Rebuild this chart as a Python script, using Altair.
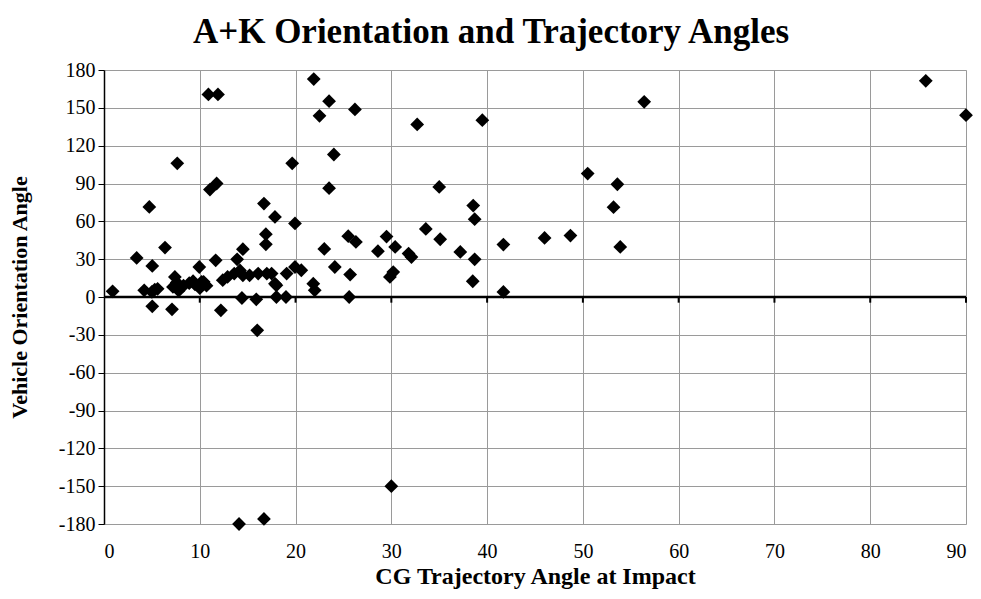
import altair as alt
import pandas as pd

# CG trajectory angle at impact (deg)
traj = [
    0.9, 10.9, 11.9, 7.65, 19.65, 11.06, 11.76, 4.73, 16.7, 17.85,
    19.94, 16.9, 16.9, 6.37, 14.5, 3.41, 5.04, 9.95, 11.66, 13.9,
    19.94, 20.6, 19.07, 21.85, 4.2, 5.3, 14.4, 15.9, 18.0, 19.0,
    5.04, 7.1, 12.2, 16.0, 14.1, 16.7, 21.9, 23.5, 22.5, 26.2,
    32.7, 39.5, 24.0, 23.5, 35.0, 38.55, 38.7, 25.5, 26.3, 23.0,
    29.5, 30.4, 28.6, 31.8, 32.1, 33.6, 35.1, 37.2, 38.7, 41.7,
    24.1, 25.7, 29.85, 30.2, 38.5, 41.7, 25.6, 22.0, 30.0, 56.4,
    50.5, 53.6, 53.2, 53.9, 46.0, 48.7, 85.8, 90.0,
    5.0, 5.6, 7.4, 7.6, 7.2, 7.8, 8.3, 8.9, 9.5, 10.0,
    10.4, 10.7, 9.3, 12.9, 13.6, 14.5, 15.2, 16.1, 17.0, 17.5,
    17.85, 14.2, 18.0, 12.4, 10.2,
]
# Vehicle orientation angle (deg)
orient = [
    4.5, 160.6, 160.6, 106.0, 106.0, 85.2, 90.0, 71.4, 74.1, 63.5,
    58.3, 49.8, 41.8, 39.2, 37.9, 31.0, 24.6, 23.8, 29.1, 29.9,
    23.8, 21.2, 18.6, 10.6, 5.3, 5.9, -0.8, -1.8, 0.0, 0.0,
    -7.4, -9.8, -10.6, -26.4, -180.0, -176.0, 172.8, 155.3, 143.7, 148.7,
    136.8, 140.2, 113.0, 86.3, 87.3, 72.5, 61.7, 48.2, 43.7, 38.1,
    47.9, 39.7, 36.3, 34.4, 31.7, 54.0, 45.8, 35.7, 29.9, 41.6,
    23.8, 17.8, 15.9, 19.8, 12.5, 4.0, 0.0, 5.3, -150.0, 154.8,
    97.9, 89.4, 71.2, 39.7, 46.8, 48.7, 171.4, 144.2,
    4.0, 6.5, 15.9, 11.5, 8.0, 5.0, 9.0, 11.0, 10.0, 7.0,
    12.0, 9.0, 12.5, 15.9, 18.6, 17.2, 17.2, 18.6, 18.6, 18.6,
    10.6, 21.0, 9.3, 13.3, 12.0,
]
x_ticks = [0, 10, 20, 30, 40, 50, 60, 70, 80, 90]
y_ticks = [-180, -150, -120, -90, -60, -30, 0, 30, 60, 90, 120, 150, 180]

df = pd.DataFrame({"traj": traj, "orient": orient})
ticks_df = pd.DataFrame({"t": x_ticks[1:]})
zero_df = pd.DataFrame({"y": [0]})

FONT = "Liberation Serif"
xscale = alt.Scale(domain=[0, 90], nice=False, zero=False)
yscale = alt.Scale(domain=[-180, 180], nice=False, zero=False)

xaxis = alt.Axis(values=x_ticks, title="CG Trajectory Angle at Impact",
                 grid=True, gridColor="#9a9a9a", gridWidth=1,
                 ticks=False, domain=False, labelPadding=17,
                 labelOverlap=False, labelExpr="'' + datum.value",
                 titleY=59, titleBaseline="alphabetic",
                 labelFont=FONT, labelFontSize=20,
                 labelColor="black", titleFont=FONT, titleFontSize=24,
                 titleFontWeight="bold", titleColor="black")
yaxis = alt.Axis(values=y_ticks, title="Vehicle Orientation Angle",
                 grid=True, gridColor="#9a9a9a", gridWidth=1,
                 ticks=True, tickSize=6, tickColor="black",
                 domain=True, domainColor="black", domainWidth=1.5,
                 labelPadding=3, titlePadding=27,
                 labelOverlap=False, labelExpr="'' + datum.value",
                 labelFont=FONT, labelFontSize=20, labelColor="black",
                 titleFont=FONT, titleFontSize=22,
                 titleFontWeight="bold", titleColor="black")

points = alt.Chart(df).mark_point(
    shape="diamond", filled=True, color="black", size=190, opacity=1
).encode(
    x=alt.X("traj:Q", scale=xscale, axis=xaxis),
    y=alt.Y("orient:Q", scale=yscale, axis=yaxis),
)

zero_line = alt.Chart(zero_df).mark_rule(color="black", strokeWidth=2.5).encode(
    y=alt.Y("y:Q", scale=yscale, axis=yaxis)
)

zero_ticks = alt.Chart(ticks_df).mark_rule(color="black", strokeWidth=2).encode(
    x=alt.X("t:Q", scale=xscale, axis=xaxis),
    y=alt.Y("y0:Q", scale=yscale, axis=yaxis),
    y2="y1:Q",
).transform_calculate(y0="0", y1="-4.5")

chart = alt.layer(points, zero_line, zero_ticks).properties(
    width=862,
    height=454,
    title=alt.Title("A+K Orientation and Trajectory Angles", font=FONT,
                    fontSize=35, fontWeight="bold", color="black",
                    anchor="middle", dx=-44, offset=10),
    autosize=alt.AutoSizeParams(type="none"),
    padding={"left": 96, "top": 62, "right": 7, "bottom": 67},
).configure_view(stroke="black", strokeWidth=1).configure(background="white")

chart.save("out.html", embed_options={"renderer": "svg", "actions": False})
